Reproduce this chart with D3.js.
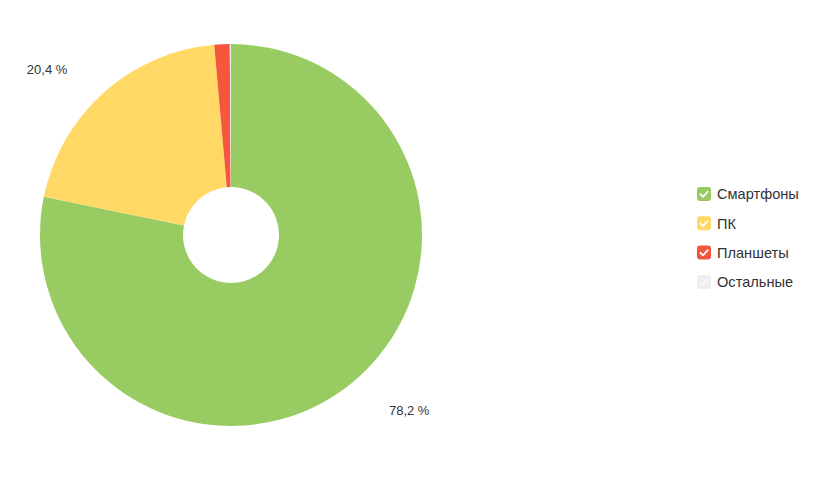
<!DOCTYPE html>
<html><head><meta charset="utf-8">
<script src="https://cdn.jsdelivr.net/npm/d3@7"></script>
<style>body{margin:0;background:#fff;font-family:Arial,"Liberation Sans",sans-serif;}</style>
</head><body><svg id="c" width="813" height="480"></svg>
<script>
const categories = ["Смартфоны", "ПК", "Планшеты", "Остальные"];
const values = [78.2, 20.4, 1.3, 0.1];
const colors = ["#98CC63", "#FFD866", "#F5573E", "#EFEFEF"];
const shownLabels = [true, true, false, false];
// label angle (deg, clockwise from top) used for the visible labels
const labelAngles = [138.2, 314.6, null, null];

const svg = d3.select("#c");
const cx = 231, cy = 235, R = 191, r0 = 48;
const data = categories.map((c,i)=>({c, v:values[i], col:colors[i], i}));
const pie = d3.pie().value(d=>d.v).sort(null);
const arcs = pie(data);
const arc = d3.arc().innerRadius(r0).outerRadius(R);
const g = svg.append("g").attr("transform",`translate(${cx},${cy})`);
g.selectAll("path").data(arcs).join("path").attr("d",arc).attr("fill",d=>d.data.col);

const fmt = v => d3.format(".1f")(v).replace(".", ",") + " %";
arcs.forEach((a,i)=>{
  if(!shownLabels[i]) return;
  const ang = labelAngles[i]*Math.PI/180;
  const rl = 235.5;
  const x = Math.sin(ang)*rl, y = -Math.cos(ang)*rl;
  const right = x>0;
  g.append("text").attr("x", x + (right? 1: 4)).attr("y", y+4)
   .attr("text-anchor", right?"start":"end")
   .attr("font-size",13).attr("fill","#333").text(fmt(a.data.v));
});

const leg = svg.append("g").attr("transform","translate(697,187)");
const items = leg.selectAll("g").data(data).join("g").attr("transform",(d,i)=>`translate(0,${i*29.3})`);
items.append("rect").attr("width",14).attr("height",14).attr("rx",3).attr("fill",d=>d.col);
items.append("path").attr("d","M3.5,7.2 L6,9.8 L10.7,4.6").attr("fill","none")
  .attr("stroke",(d,i)=>i===3?"#f7f7f7":"#fff").attr("stroke-width",1.8).attr("stroke-linecap","round").attr("stroke-linejoin","round");
items.append("text").attr("x",20).attr("y",12.3).attr("font-size",14.6).attr("fill","#333").text(d=>d.c);
</script></body></html>
